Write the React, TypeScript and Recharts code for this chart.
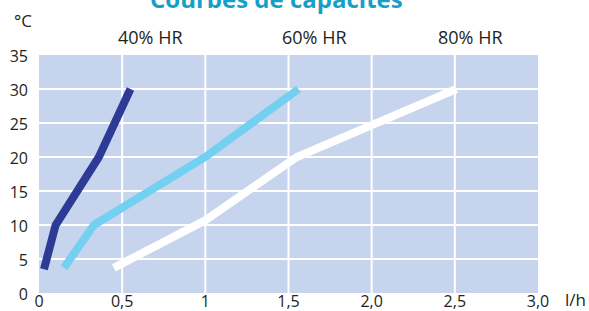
import { CartesianGrid, Line, LineChart, XAxis, YAxis } from "recharts";

// débit (l/h) vs température (°C), one curve per humidity level
const hr40 = [
  { x: 0.03, t: 3.5 },
  { x: 0.1, t: 10 },
  { x: 0.36, t: 20 },
  { x: 0.55, t: 30 },
];
const hr60 = [
  { x: 0.15, t: 3.7 },
  { x: 0.33, t: 10 },
  { x: 1.0, t: 20 },
  { x: 1.56, t: 30 },
];
const hr80 = [
  { x: 0.45, t: 3.7 },
  { x: 1.0, t: 10.7 },
  { x: 1.55, t: 20 },
  { x: 2.51, t: 30 },
];

const xTicks = [0, 0.5, 1, 1.5, 2, 2.5, 3];
const xTickLabels = ["0", "0,5", "1", "1,5", "2,0", "2,5", "3,0"];
const yTicks = [0, 5, 10, 15, 20, 25, 30, 35];
const xGrid = [0.5, 1, 1.5, 2, 2.5];
const yGrid = [5, 10, 15, 20, 25, 30];

const seriesLabels = [
  { text: "40% HR", left: 118 },
  { text: "60% HR", left: 282 },
  { text: "80% HR", left: 438 },
];

const FONT = "'Open Sans', sans-serif";
const INK = "#231f20";

export default function App() {
  return (
    <div
      style={{
        position: "fixed",
        left: 0,
        top: 0,
        width: 589,
        height: 311,
        background: "#fff",
        fontFamily: FONT,
        overflow: "hidden",
      }}
    >
      <LineChart
        width={589}
        height={311}
        margin={{ top: 55, right: 51, bottom: 0, left: 0 }}
      >
        <CartesianGrid
          fill="#c6d4ed"
          stroke="#ffffff"
          strokeWidth={2}
          verticalValues={xGrid}
          horizontalValues={yGrid}
        />
        <XAxis
          type="number"
          dataKey="x"
          domain={[0, 3]}
          ticks={xTicks}
          height={18}
          axisLine={false}
          tickLine={false}
          tickSize={0}
          tickMargin={3}
          interval={0}
          tickFormatter={(v: number) => xTickLabels[xTicks.indexOf(v)] ?? String(v)}
          tick={{ fontSize: 16, fill: INK, fontFamily: FONT }}
        />
        <YAxis
          type="number"
          domain={[0, 35]}
          ticks={yTicks}
          width={39}
          axisLine={false}
          tickLine={false}
          tickSize={0}
          tickMargin={11}
          interval={0}
          tick={{ fontSize: 16, fill: INK, fontFamily: FONT, dy: 1 }}
        />
        <Line
          data={hr40}
          dataKey="t"
          type="linear"
          stroke="#2e3b96"
          strokeWidth={8}
          dot={false}
          isAnimationActive={false}
        />
        <Line
          data={hr60}
          dataKey="t"
          type="linear"
          stroke="#74d0f1"
          strokeWidth={8}
          dot={false}
          isAnimationActive={false}
        />
        <Line
          data={hr80}
          dataKey="t"
          type="linear"
          stroke="#ffffff"
          strokeWidth={8}
          dot={false}
          isAnimationActive={false}
        />
      </LineChart>

      <div
        style={{
          position: "absolute",
          left: 150,
          top: -16,
          fontSize: 24,
          fontWeight: 700,
          color: "#16a0c8",
          whiteSpace: "nowrap",
          lineHeight: "30px",
        }}
      >
        Courbes de capacités
      </div>
      <div
        style={{
          position: "absolute",
          left: 14,
          top: 9,
          fontSize: 17,
          color: INK,
          lineHeight: "24px",
        }}
      >
        °C
      </div>
      {seriesLabels.map((l) => (
        <div
          key={l.text}
          style={{
            position: "absolute",
            left: l.left,
            top: 25,
            fontSize: 18,
            color: INK,
            whiteSpace: "nowrap",
            lineHeight: "24px",
          }}
        >
          {l.text}
        </div>
      ))}
      <div
        style={{
          position: "absolute",
          left: 565,
          top: 290,
          fontSize: 17,
          color: INK,
          lineHeight: "20px",
        }}
      >
        l/h
      </div>
    </div>
  );
}
